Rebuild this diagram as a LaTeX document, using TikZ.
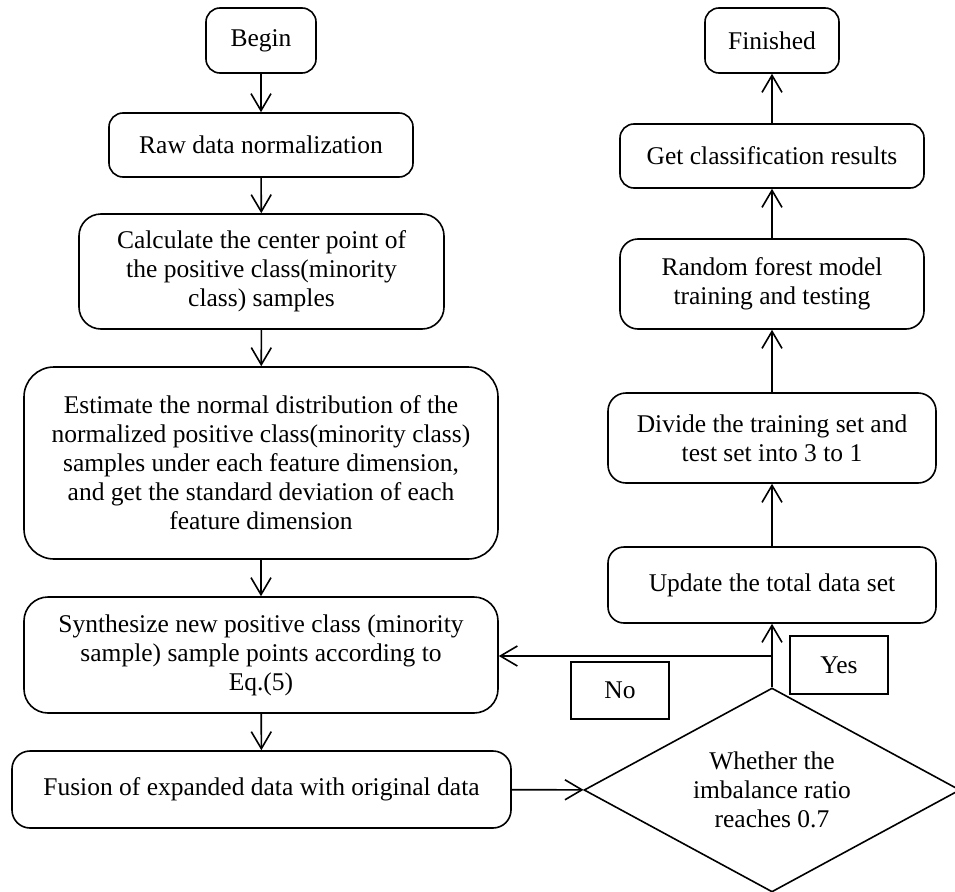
\documentclass[tikz,border=0pt]{standalone}
\usepackage{fontspec}
\setmainfont{Liberation Serif}
\usetikzlibrary{arrows.meta,shapes.geometric}
\begin{document}
\begin{tikzpicture}[x=1pt,y=-1pt,
  box/.style={draw,line width=1.6pt,rounded corners=14pt,align=center,inner sep=0pt,
    font=\fontsize{25.5}{29}\selectfont},
  bigbox/.style={box,rounded corners=30pt},
  lbl/.style={draw,line width=1.1pt,inner sep=0pt,font=\fontsize{25.5}{29}\selectfont},
  decision/.style={draw,diamond,line width=1.6pt,aspect=1.85,inner sep=0pt,align=center,
    font=\fontsize{25.5}{29}\selectfont},
  arr/.style={line width=1.6pt,-{Straight Barb[length=17pt,width=20pt,line width=1.6pt]}}]
\useasboundingbox (0,0) rectangle (955,891);
% left column
\node[box,minimum width=110pt,minimum height=65pt] (begin) at (261,40.5) {Begin};
\node[box,minimum width=304pt,minimum height=64pt] (raw) at (261,145) {Raw data normalization};
\node[box,rounded corners=22pt,minimum width=365pt,minimum height=115pt] (calc) at (261.5,271.5)
  {Calculate the center point of\\the positive class(minority\\class) samples};
\node[bigbox,minimum width=474pt,minimum height=192pt] (est) at (261,463)
  {Estimate the normal distribution of the\\normalized positive class(minority class)\\samples under each feature dimension,\\and get the standard deviation of each\\feature dimension};
\node[box,rounded corners=24pt,minimum width=474pt,minimum height=116pt] (syn) at (261,655)
  {Synthesize new positive class (minority\\sample) sample points according to\\Eq.(5)};
\node[box,rounded corners=18pt,minimum width=499pt,minimum height=77pt] (fus) at (261.5,789.5)
  {Fusion of expanded data with original data};
% decision
\node[decision,minimum width=376pt,minimum height=204pt] (dia) at (772,790)
  {Whether the\\imbalance ratio\\reaches 0.7};
% right column
\node[box,minimum width=134pt,minimum height=65pt] (fin) at (772,40.5) {Finished};
\node[box,minimum width=304pt,minimum height=64pt] (get) at (772,156) {Get classification results};
\node[box,rounded corners=18pt,minimum width=304pt,minimum height=90pt] (rf) at (772,284)
  {Random forest model\\training and testing};
\node[box,rounded corners=18pt,minimum width=328pt,minimum height=90pt] (div) at (772,438)
  {Divide the training set and\\test set into 3 to 1};
\node[box,rounded corners=16pt,minimum width=328pt,minimum height=76pt] (upd) at (772,585)
  {Update the total data set};
% labels
\node[lbl,minimum width=98pt,minimum height=58pt] (yes) at (839,665) {Yes};
\node[lbl,minimum width=98pt,minimum height=57pt] (no) at (620,690.5) {No};
% connectors
\draw[arr] (begin) -- (raw);
\draw[arr] (raw) -- (calc);
\draw[arr] (calc) -- (est);
\draw[arr] (est) -- (syn);
\draw[arr] (syn) -- (fus);
\draw[arr] (fus) -- (dia);
\draw[arr] (dia.north) -- (upd.south);
\draw[arr] (upd) -- (div);
\draw[arr] (div) -- (rf);
\draw[arr] (rf) -- (get);
\draw[arr] (get) -- (fin);
\coordinate (nj) at (772,656);
\draw[arr] (nj) -- (syn.east |- nj);
\end{tikzpicture}
\end{document}
